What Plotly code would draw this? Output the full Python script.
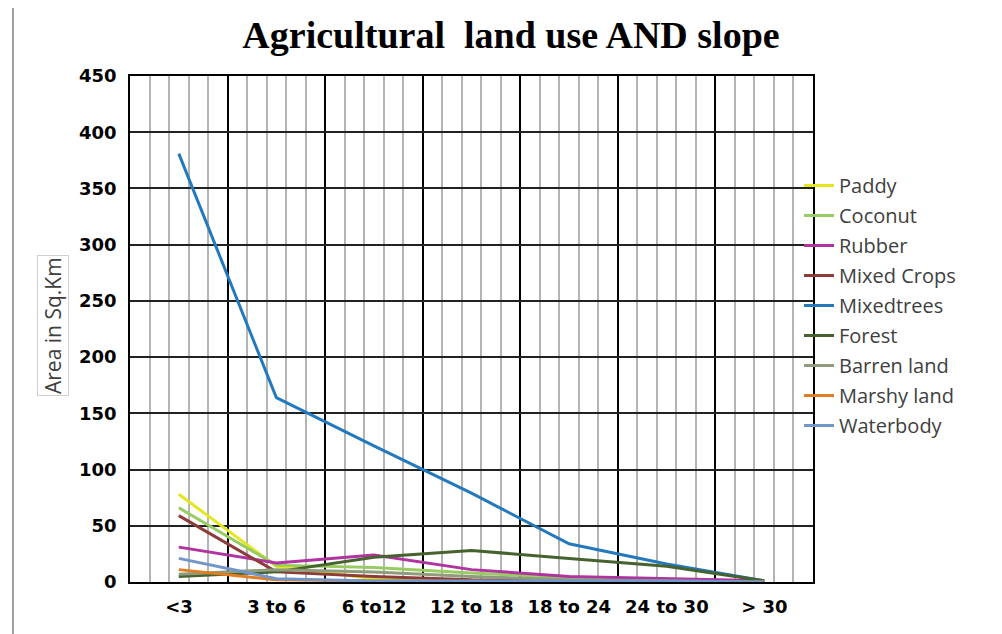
import plotly.graph_objects as go

categories = ["<3", "3 to 6", "6 to12", "12 to 18", "18 to 24", "24 to 30", "> 30"]

paddy = [78, 14, 3, 1, 1, 0.5, 0]
coconut = [66, 15, 13, 8, 4, 2, 1]
rubber = [31, 17, 24, 11, 5, 3, 1]
mixed_crops = [59, 9, 5, 2, 1, 0.5, 0]
mixedtrees = [381, 164, 121, 79, 34, 16, 1]
forest = [5, 9, 22, 28, 21, 14, 1]
barren_land = [7, 11, 9, 5, 2, 1, 0]
marshy_land = [11, 2, 1, 0.5, 0, 0, 0]
waterbody = [21, 3, 1, 1, 1, 1, 0]

y_ticks = [0, 50, 100, 150, 200, 250, 300, 350, 400, 450]

series = [
    ("Paddy", paddy, "#E4E620"),
    ("Coconut", coconut, "#98CC62"),
    ("Rubber", rubber, "#B0339F"),
    ("Mixed Crops", mixed_crops, "#8E3C3A"),
    ("Mixedtrees", mixedtrees, "#2479BD"),
    ("Forest", forest, "#46622E"),
    ("Barren land", barren_land, "#8F9C7C"),
    ("Marshy land", marshy_land, "#E27D22"),
    ("Waterbody", waterbody, "#7396C9"),
]

xpos = list(range(len(categories)))
# category boundaries: labels sit on these ticks and are shifted to the category centre
boundaries = [i - 0.5 for i in xpos]

fig = go.Figure()
for name, vals, color in series:
    fig.add_trace(go.Scatter(
        x=xpos, y=vals, name=name, mode="lines",
        line=dict(color=color, width=3),
        legendgroup=name,
    ))

W, H = 1002, 634
OFF = 8  # page offset of the plot div
# target plot area on the page: x 130..813, y 76..582
ml, mt = 130 - OFF, 76 - OFF
mr = W - (813 - OFF)
mb = H - (582 - OFF)
pw, ph = W - ml - mr, H - mt - mb
cat_px = pw / len(categories)

def px_x(p):
    return (p - OFF - ml) / pw

def px_y(p):
    return (H - mb - (p - OFF)) / ph

fig.update_layout(
    width=W, height=H,
    margin=dict(l=ml, r=mr, t=mt, b=mb),
    paper_bgcolor="white", plot_bgcolor="white",
    title=dict(
        text="Agricultural  land use AND slope",
        x=(511 - OFF) / W, xanchor="center", y=1 - (35 - OFF) / H, yanchor="middle",
        font=dict(family="Liberation Serif", size=38, color="black", weight="bold"),
    ),
    xaxis=dict(
        range=[-0.5, 6.5], tickmode="array", tickvals=boundaries, ticktext=categories,
        ticklabelshift=int(round(cat_px / 2)), ticklabelstandoff=8,
        showgrid=True, gridcolor="black", gridwidth=1.5, zeroline=False, ticks="",
        showline=True, mirror=True, linecolor="black", linewidth=1.5,
        tickfont=dict(family="DejaVu Sans", size=18, color="black", weight="bold"),
        minor=dict(tick0=-0.5, dtick=0.2, showgrid=True, gridcolor="#b4b4b4", gridwidth=2, ticks=""),
    ),
    yaxis=dict(
        range=[0, 450], tickmode="array", tickvals=y_ticks,
        showgrid=True, gridcolor="#222222", gridwidth=1.5, zeroline=False, ticks="",
        showline=True, mirror=True, linecolor="black", linewidth=1.5,
        tickfont=dict(family="DejaVu Sans", size=18, color="black", weight="bold"),
        ticklabelstandoff=8,
    ),
    legend=dict(
        x=px_x(799), xanchor="left", y=px_y(166), yanchor="top",
        font=dict(family="Open Sans", size=20, color="#404040"),
        bgcolor="rgba(0,0,0,0)", tracegroupgap=1, traceorder="grouped",
    ),
    showlegend=True,
    annotations=[dict(
        text="Area in Sq.Km", textangle=-90, xref="paper", yref="paper",
        x=px_x(53), y=px_y(326), xanchor="center", yanchor="middle", showarrow=False,
        font=dict(family="Open Sans", size=21, color="#404040"),
        bordercolor="#d0d0d0", borderwidth=1, borderpad=1,
    )],
    shapes=[dict(
        type="rect", xref="paper", yref="paper",
        x0=px_x(13), x1=px_x(1010), y0=px_y(7), y1=px_y(650),
        line=dict(color="#a0a0a0", width=2), layer="below",
    )],
)

fig.write_html("out.html")
